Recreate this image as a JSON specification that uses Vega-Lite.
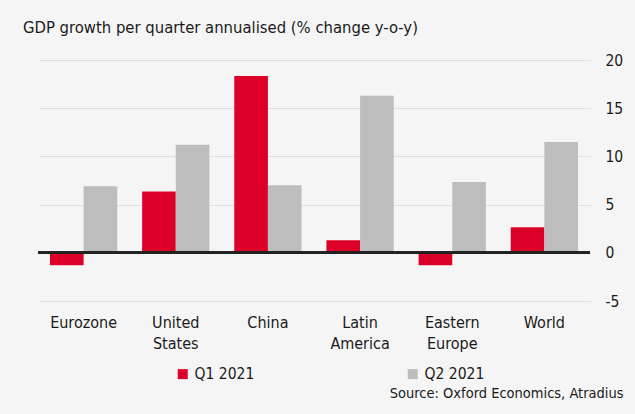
{
  "$schema": "https://vega.github.io/schema/vega-lite/v6.json",
  "width": 552,
  "height": 241,
  "autosize": {"type": "none"},
  "padding": {"left": 38, "top": 60, "right": 45, "bottom": 113},
  "background": "#f5f5f5",
  "config": {
    "font": "DejaVu Sans Condensed",
    "view": {"stroke": null}
  },
  "title": {
    "text": "GDP growth per quarter annualised (% change y-o-y)",
    "anchor": "start",
    "dx": -14,
    "offset": 17,
    "fontSize": 16.5,
    "fontWeight": "normal",
    "color": "#1a1a1a"
  },
  "data": {
    "values": [
      {"region": "Eurozone", "quarter": "Q1 2021", "value": -1.3},
      {"region": "Eurozone", "quarter": "Q2 2021", "value": 6.9},
      {"region": "United States", "quarter": "Q1 2021", "value": 6.35},
      {"region": "United States", "quarter": "Q2 2021", "value": 11.2},
      {"region": "China", "quarter": "Q1 2021", "value": 18.35},
      {"region": "China", "quarter": "Q2 2021", "value": 7.0},
      {"region": "Latin America", "quarter": "Q1 2021", "value": 1.3},
      {"region": "Latin America", "quarter": "Q2 2021", "value": 16.3},
      {"region": "Eastern Europe", "quarter": "Q1 2021", "value": -1.3},
      {"region": "Eastern Europe", "quarter": "Q2 2021", "value": 7.35},
      {"region": "World", "quarter": "Q1 2021", "value": 2.65},
      {"region": "World", "quarter": "Q2 2021", "value": 11.5}
    ]
  },
  "layer": [
    {
      "mark": {"type": "bar"},
      "encoding": {
        "x": {
          "field": "region",
          "type": "nominal",
          "sort": null,
          "scale": {"paddingInner": 0.27, "paddingOuter": 0.13},
          "axis": {
            "domain": false,
            "ticks": false,
            "grid": false,
            "labelAngle": 0,
            "labelPadding": 13,
            "labelFontSize": 16,
            "labelColor": "#1a1a1a",
            "labelBaseline": "top",
            "labelLineHeight": 21,
            "labelExpr": "split(datum.label, ' ')",
            "title": "Source: Oxford Economics, Atradius",
            "titleAnchor": "end",
            "titleAlign": "right",
            "titleBaseline": "alphabetic",
            "titleX": 585,
            "titleY": 96,
            "titleFontSize": 14.5,
            "titleFontWeight": "normal",
            "titleColor": "#1a1a1a"
          }
        },
        "xOffset": {"field": "quarter", "sort": null},
        "y": {
          "field": "value",
          "type": "quantitative",
          "scale": {"domain": [-5, 20], "nice": false},
          "axis": {
            "orient": "right",
            "values": [-5, 0, 5, 10, 15, 20],
            "labelExpr": "replace(datum.label, '−', '-')",
            "domain": false,
            "ticks": false,
            "labelAlign": "left",
            "labelPadding": 15,
            "labelFontSize": 15.5,
            "labelColor": "#1a1a1a",
            "gridColor": "#c8c8c8",
            "gridDash": [1, 1],
            "title": null
          }
        },
        "color": {
          "field": "quarter",
          "type": "nominal",
          "scale": {"domain": ["Q1 2021", "Q2 2021"], "range": ["#dc0028", "#bdbdbd"]},
          "legend": {
            "title": null,
            "orient": "none",
            "direction": "horizontal",
            "legendX": 137,
            "legendY": 306,
            "symbolType": "square",
            "symbolSize": 100,
            "symbolOpacity": 1,
            "labelFontSize": 15.5,
            "labelColor": "#1a1a1a",
            "labelOffset": 4,
            "columnPadding": 150
          }
        }
      }
    },
    {
      "mark": {"type": "rule", "color": "#222222", "strokeWidth": 2},
      "encoding": {"y": {"datum": 0}}
    }
  ]
}
